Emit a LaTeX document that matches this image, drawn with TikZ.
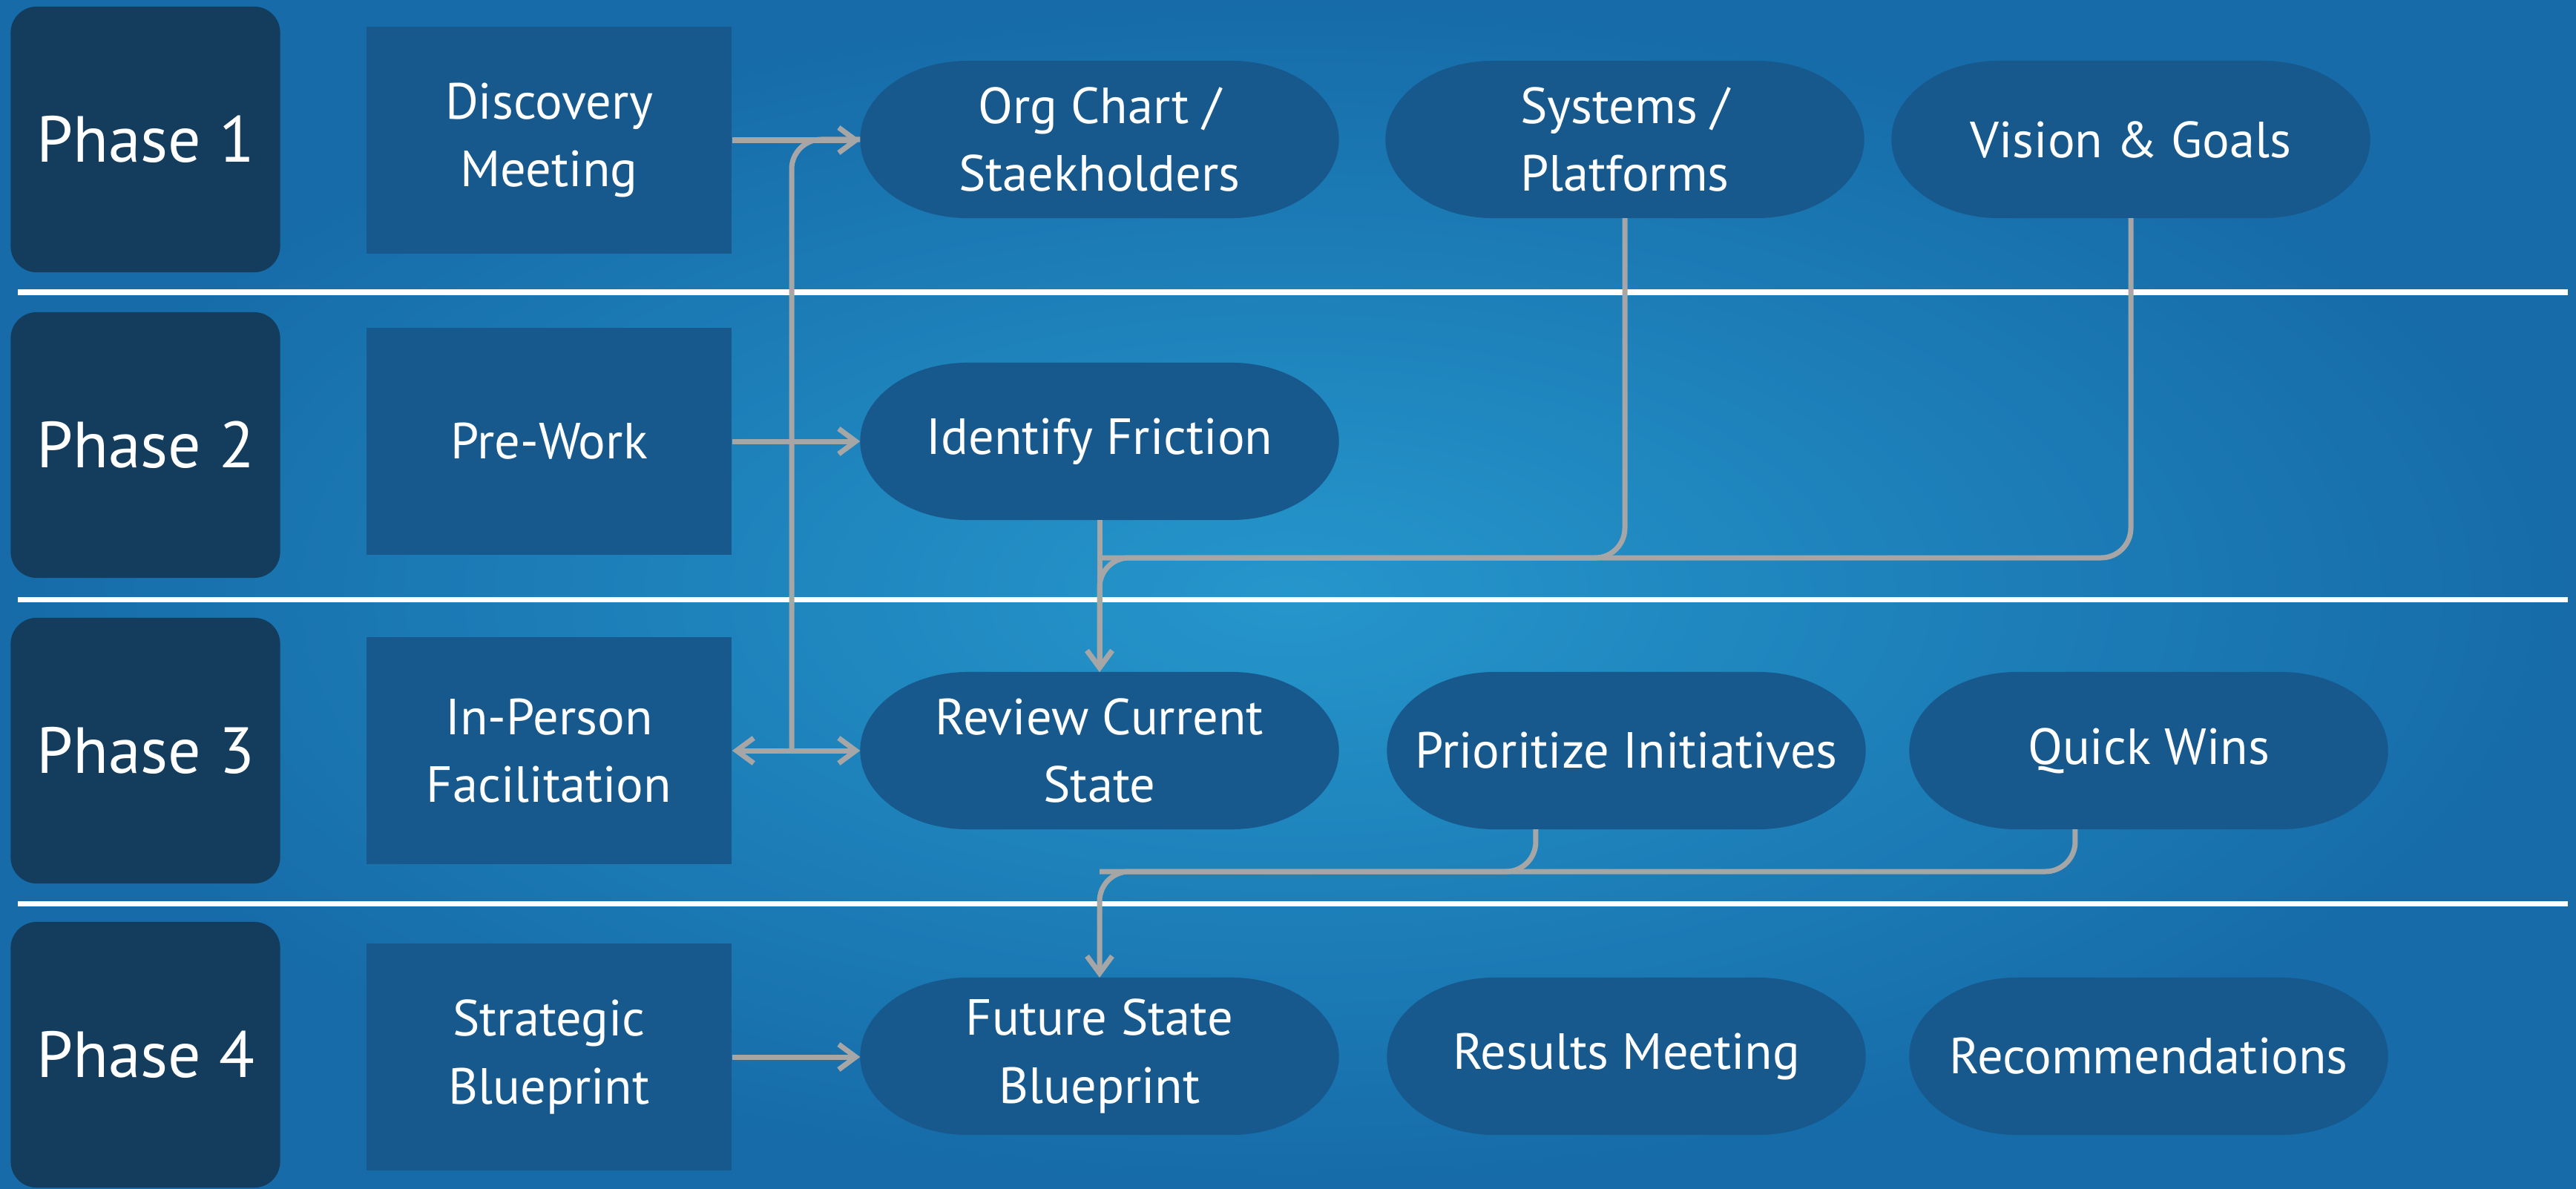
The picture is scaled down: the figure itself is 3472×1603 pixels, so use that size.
\documentclass[tikz,border=0pt]{standalone}
\usepackage{fontspec}
\setmainfont{PT Sans}
\usetikzlibrary{arrows.meta,backgrounds,calc}
\definecolor{phasenavy}{HTML}{143C5C}
\definecolor{stepblue}{HTML}{17598C}
\definecolor{bgin}{HTML}{2596CB}
\definecolor{bgout}{HTML}{166BA8}
\definecolor{linkgray}{HTML}{A6A6A6}
\begin{document}
\begin{tikzpicture}[x=0.01cm, y=-0.01cm,
    >={Straight Barb[length=0.23cm, width=0.34cm]},
    phase/.style={fill=phasenavy, rounded corners=0.35cm, minimum width=3.63cm, minimum height=3.58cm, text=white, font=\fontsize{25}{30}\selectfont},
    stepbox/.style={fill=stepblue, minimum width=4.92cm, minimum height=3.06cm, text=white, align=center, font=\fontsize{19.5}{26}\selectfont},
    pill/.style={minimum width=6.45cm, minimum height=2.12cm, outer sep=0pt, text=white, align=center, font=\fontsize{19.5}{26}\selectfont},
    link/.style={draw=linkgray, line width=0.07cm, rounded corners=0.4cm},
    lane/.style={draw=white, line width=0.07cm}]
        \useasboundingbox (0,0) rectangle (3472,1603);
        \begin{scope}[on background layer]
          \shade[inner color=bgin, outer color=bgout] (0,0) rectangle (3472,1603);
        \end{scope}
        \foreach \y in {394,808,1218}
          \draw[lane] (24,\y) -- (3461,\y);
        \node[phase] (p1) at (196,188) {Phase 1};
        \node[phase] (p2) at (196,600) {Phase 2};
        \node[phase] (p3) at (196,1012) {Phase 3};
        \node[phase] (p4) at (196,1422) {Phase 4};
        \node[stepbox] (disc) at (740,189) {Discovery\\Meeting};
        \node[stepbox] (pre) at (740,595) {Pre-Work};
        \node[stepbox] (inp) at (740,1012) {In-Person\\Facilitation};
        \node[stepbox] (strat) at (740,1425) {Strategic\\Blueprint};
        \node[pill] (org) at (1482,188) {Org Chart /\\Staekholders};
        \node[pill] (sys) at (2190,188) {Systems /\\Platforms};
        \node[pill] (vis) at (2872,188) {Vision \& Goals};
        \node[pill] (fric) at (1482,595) {Identify Friction};
        \node[pill] (rev) at (1482,1012) {Review Current\\State};
        \node[pill] (prio) at (2192,1012) {Prioritize Initiatives};
        \node[pill] (quick) at (2896,1012) {Quick Wins};
        \node[pill] (fut) at (1482,1424) {Future State\\Blueprint};
        \node[pill] (res) at (2192,1424) {Results Meeting};
        \node[pill] (rec) at (2896,1424) {Recommendations};
        \begin{scope}[on background layer]
          \foreach \n in {org,sys,vis,fric,rev,prio,quick,fut,res,rec}
            \fill[stepblue] ([xshift=1.45cm]\n.north west) -- ([xshift=-1.45cm]\n.north east)
              arc[start angle=90, end angle=-90, x radius=1.45cm, y radius=1.06cm]
              -- ([xshift=1.45cm]\n.south west)
              arc[start angle=270, end angle=90, x radius=1.45cm, y radius=1.06cm] -- cycle;
        \end{scope}
        \coordinate (hub) at (1067,1012);
        \coordinate (m1) at (1482,752);
        \coordinate (m2) at (1482,1175);
        \draw[link,->] (disc.east) -- (disc.east -| org.west);
        \draw[link,->] (pre.east) -- (fric.west);
        \draw[link] (hub) |- (org.west);
        \draw[link,->] (hub) -- (inp.east);
        \draw[link,->] (hub) -- (rev.west);
        \draw[link,->] (fric.south) -- (rev.north);
        \draw[link,->] (vis.south) |- (m1) -- (rev.north);
        \draw[link] (sys.south) |- (m1);
        \draw[link,->] ([xshift=-1.22cm]prio.south) |- (m2) -- (fut.north);
        \draw[link] ([xshift=-0.99cm]quick.south) |- (m2);
        \draw[link,->] (strat.east) -- (strat.east -| fut.west);
      \end{tikzpicture}
\end{document}
